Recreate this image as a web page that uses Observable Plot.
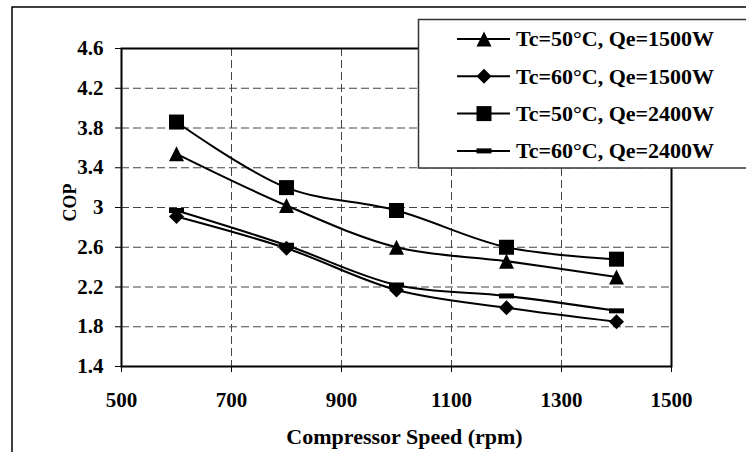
<!DOCTYPE html>
<html>
<head>
<meta charset="utf-8">
<script src="https://cdn.jsdelivr.net/npm/d3@7"></script>
<script src="https://cdn.jsdelivr.net/npm/@observablehq/plot@0.6"></script>
<style>
  html, body { margin: 0; padding: 0; background: #fff; }
  #wrap { position: relative; width: 746px; height: 452px; overflow: hidden; background: #fff; }
  #wrap svg { position: absolute; left: 0; top: 0; }
</style>
</head>
<body>
<div id="wrap"></div>
<script>
// ---- data ----
const speeds = [600, 800, 1000, 1200, 1400];
const seriesNames = ["Tc=50°C, Qe=1500W", "Tc=60°C, Qe=1500W", "Tc=50°C, Qe=2400W", "Tc=60°C, Qe=2400W"];
const copTc50Qe1500 = [3.54, 3.02, 2.60, 2.46, 2.30];
const copTc60Qe1500 = [2.91, 2.59, 2.17, 1.99, 1.85];
const copTc50Qe2400 = [3.86, 3.20, 2.97, 2.60, 2.48];
const copTc60Qe2400 = [2.97, 2.62, 2.22, 2.11, 1.96];
const xTicks = [500, 700, 900, 1100, 1300, 1500];
const yTicks = [1.4, 1.8, 2.2, 2.6, 3.0, 3.4, 3.8, 4.2, 4.6];
const xLabel = "Compressor Speed (rpm)";
const yLabel = "COP";

// ---- marker symbols ----
const symTriangle = {draw(c) { c.moveTo(0, -7.5); c.lineTo(7.5, 7.5); c.lineTo(-7.5, 7.5); c.closePath(); }};
const symDiamond = {draw(c) { c.moveTo(0, -7.5); c.lineTo(7.5, 0); c.lineTo(0, 7.5); c.lineTo(-7.5, 0); c.closePath(); }};
const symSquare = {draw(c) { c.moveTo(-7.5, -7.5); c.lineTo(7.5, -7.5); c.lineTo(7.5, 7.5); c.lineTo(-7.5, 7.5); c.closePath(); }};
const symDash = {draw(c) { c.moveTo(-7.5, -2.5); c.lineTo(7.5, -2.5); c.lineTo(7.5, 2.5); c.lineTo(-7.5, 2.5); c.closePath(); }};
const symbols = [symTriangle, symDiamond, symSquare, symDash];
const seriesValues = [copTc50Qe1500, copTc60Qe1500, copTc50Qe2400, copTc60Qe2400];

const series = seriesNames.map((name, i) => ({
  name, symbol: symbols[i],
  rows: speeds.map((s, j) => ({speed: s, cop: seriesValues[i][j]}))
}));

const font = "'Liberation Serif', 'Times New Roman', Times, serif";

const marks = [
  Plot.gridX(xTicks.slice(1, -1), {stroke: "#444", strokeOpacity: 1, strokeWidth: 1, strokeDasharray: "8,4"}),
  Plot.gridY(yTicks.slice(1, -1), {stroke: "#444", strokeOpacity: 1, strokeWidth: 1, strokeDasharray: "8,4"}),
  Plot.frame({stroke: "#000", strokeWidth: 2}),
  Plot.axisX({ticks: xTicks, tickSize: 6, tickPadding: 20, label: null, tickFormat: d => String(d), fontSize: 21}),
  Plot.axisY({ticks: yTicks, tickSize: 6, tickPadding: 12, label: null, tickFormat: d => String(+d.toFixed(1)), fontSize: 21}),
  Plot.text([xLabel], {text: d => d, frameAnchor: "bottom", textAnchor: "middle", lineAnchor: "middle", dy: 70, dx: 8, fontSize: 22}),
  Plot.text([yLabel], {text: d => d, frameAnchor: "left", textAnchor: "middle", lineAnchor: "middle", rotate: -90, dx: -51, dy: -5, fontSize: 18})
];
for (const s of series) {
  marks.push(Plot.line(s.rows, {x: "speed", y: "cop", stroke: "#000", strokeWidth: 2, curve: "catmull-rom"}));
}
for (const s of series) {
  marks.push(Plot.dot(s.rows, {x: "speed", y: "cop", symbol: s.symbol, r: 5, fill: "#000", stroke: "none"}));
}

const chart = Plot.plot({
  width: 746,
  height: 452,
  marginLeft: 121,
  marginRight: 75,
  marginTop: 48,
  marginBottom: 86,
  x: {domain: [500, 1500]},
  y: {domain: [1.4, 4.6]},
  style: {fontFamily: font, fontWeight: "bold", fontSize: "21px", color: "#000", background: "transparent", overflow: "visible"},
  marks
});
const wrap = document.getElementById("wrap");
wrap.appendChild(chart);

// ---- overlay: outer chart border and legend ----
const ov = d3.select(wrap).append("svg")
  .attr("width", 746).attr("height", 452)
  .style("pointer-events", "none");
ov.append("rect").attr("x", 12).attr("y", 7).attr("width", 800).attr("height", 500)
  .attr("fill", "none").attr("stroke", "#000").attr("stroke-width", 1.5);
ov.append("rect").attr("x", 418.5).attr("y", 19.5).attr("width", 400).attr("height", 148.5)
  .attr("fill", "#fff").attr("stroke", "#333").attr("stroke-width", 1.5);
const rowG = ov.selectAll("g.lg").data(series).join("g").attr("class", "lg")
  .attr("transform", (d, i) => `translate(0,${39 + i * 37.3})`);
rowG.append("line").attr("x1", 457).attr("x2", 510).attr("y1", 0).attr("y2", 0)
  .attr("stroke", "#000").attr("stroke-width", 2);
rowG.append("path").attr("transform", "translate(484,0)")
  .attr("d", d => d3.symbol(d.symbol)()).attr("fill", "#000");
rowG.append("text").attr("x", 516).attr("y", 0).attr("dy", "0.34em")
  .attr("font-family", font).attr("font-weight", "bold").attr("font-size", 22)
  .text(d => d.name);
</script>
</body>
</html>
